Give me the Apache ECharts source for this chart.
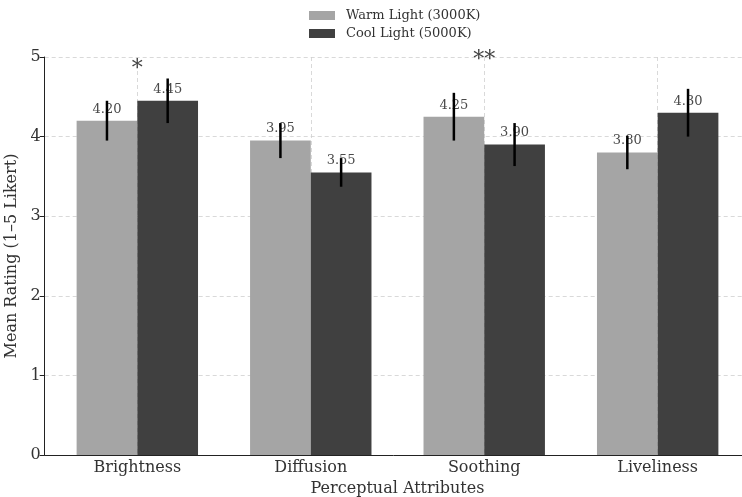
<!DOCTYPE html>
<html><head><meta charset="utf-8">
<script src="https://cdn.jsdelivr.net/npm/echarts@6/dist/echarts.min.js"></script>
<style>html,body{margin:0;padding:0;background:#fff}#c{width:742px;height:497px}</style>
</head><body><div id="c"></div>
<script>
const categories = ['Brightness','Diffusion','Soothing','Liveliness'];
const warmValues = [4.20, 3.95, 4.25, 3.80];
const warmErrors = [0.25, 0.22, 0.30, 0.21];
const coolValues = [4.45, 3.55, 3.90, 4.30];
const coolErrors = [0.28, 0.18, 0.27, 0.30];
const sigLabels = ['*', '', '**', ''];
const sigLevels = [4.84, 0, 4.96, 0];
const seriesNames = ['Warm Light (3000K)', 'Cool Light (5000K)'];
const colors = ['#a5a5a5', '#404040'];
const BAR_W = 0.35;
const FONT = '"DejaVu Serif", serif';

function barRender(side, color) {
  return function (params, api) {
    const i = api.value(0), v = api.value(1), e = api.value(2);
    const x0 = side < 0 ? i - BAR_W : i;
    const x1 = side < 0 ? i : i + BAR_W;
    const xc = i + side * BAR_W / 2;
    const p0 = api.coord([x0, v]);
    const p1 = api.coord([x1, 0]);
    const top = api.coord([xc, v]);
    const eTop = api.coord([xc, v + e]);
    const eBot = api.coord([xc, v - e]);
    return {
      type: 'group',
      children: [
        { type: 'rect', shape: { x: p0[0], y: p0[1], width: p1[0] - p0[0], height: p1[1] - p0[1] }, style: { fill: color } },
        { type: 'text', x: top[0], y: top[1] - 5, style: { text: v.toFixed(2), fill: '#4a4a4a', font: '13px ' + FONT, textAlign: 'center', textVerticalAlign: 'bottom' } },
        { type: 'line', shape: { x1: eTop[0], y1: eTop[1], x2: eBot[0], y2: eBot[1] }, style: { stroke: '#000', lineWidth: 2.5 } }
      ]
    };
  };
}

const warmData = categories.map((c, i) => [i, warmValues[i], warmErrors[i]]);
const coolData = categories.map((c, i) => [i, coolValues[i], coolErrors[i]]);
const sigData = [];
sigLabels.forEach((s, i) => { if (s) sigData.push([i, sigLevels[i], s]); });

const chart = echarts.init(document.getElementById('c'), null, { renderer: 'canvas' });
chart.setOption({
  animation: false,
  backgroundColor: '#fff',
  grid: { left: 44.7, right: -8.3, top: 57, bottom: 42, containLabel: false, outerBoundsMode: 'none' },
  legend: {
    data: seriesNames, orient: 'vertical', left: 309, top: 9, padding: 0, icon: 'rect',
    itemWidth: 26, itemHeight: 9, itemGap: 5,
    textStyle: { fontFamily: FONT, fontSize: 13, color: '#333', padding: [0, 0, 0, 6] }
  },
  xAxis: {
    type: 'value', min: -0.534, max: 3.534,
    axisLine: { show: true, onZero: false, lineStyle: { color: '#222', width: 1 } },
    axisTick: { show: false },
    axisLabel: {
      margin: 5, fontFamily: FONT, fontSize: 16, color: '#333',
      formatter: function (v) {
        const r = Math.round(v);
        return (Math.abs(v - r) < 1e-6 && r >= 0 && r < categories.length) ? categories[r] : '';
      }
    },
    splitLine: { show: true, showMinLine: false, showMaxLine: false, lineStyle: { color: '#cfcfcf', type: [4, 3], width: 0.8 } },
    name: 'Perceptual Attributes', nameLocation: 'middle', nameGap: 23,
    nameTextStyle: { fontFamily: FONT, fontSize: 16, color: '#333' }
  },
  yAxis: {
    type: 'value', min: 0, max: 5, interval: 1,
    axisLine: { show: true, onZero: false, lineStyle: { color: '#222', width: 1 } },
    axisTick: { show: true, length: 5, lineStyle: { color: '#222', width: 1 } },
    axisLabel: { margin: 4, fontFamily: FONT, fontSize: 16, color: '#333' },
    splitLine: { show: true, lineStyle: { color: '#cfcfcf', type: [4, 3], width: 0.8 } },
    name: 'Mean Rating (1\u20135 Likert)', nameLocation: 'middle', nameGap: 21,
    nameTextStyle: { fontFamily: FONT, fontSize: 16, color: '#333' }
  },
  series: [
    { name: seriesNames[0], type: 'custom', data: warmData, encode: { x: 0, y: 1 }, itemStyle: { color: colors[0] }, renderItem: barRender(-1, colors[0]) },
    { name: seriesNames[1], type: 'custom', data: coolData, encode: { x: 0, y: 1 }, itemStyle: { color: colors[1] }, renderItem: barRender(1, colors[1]) },
    {
      name: 'sig', type: 'custom', data: sigData, encode: { x: 0, y: 1 },
      renderItem: function (params, api) {
        const p = api.coord([api.value(0), api.value(1)]);
        return { type: 'text', x: p[0], y: p[1], style: { text: sigData[params.dataIndex][2], fill: '#444', font: '22px ' + FONT, textAlign: 'center', textVerticalAlign: 'middle' } };
      }
    }
  ]
});
</script></body></html>
